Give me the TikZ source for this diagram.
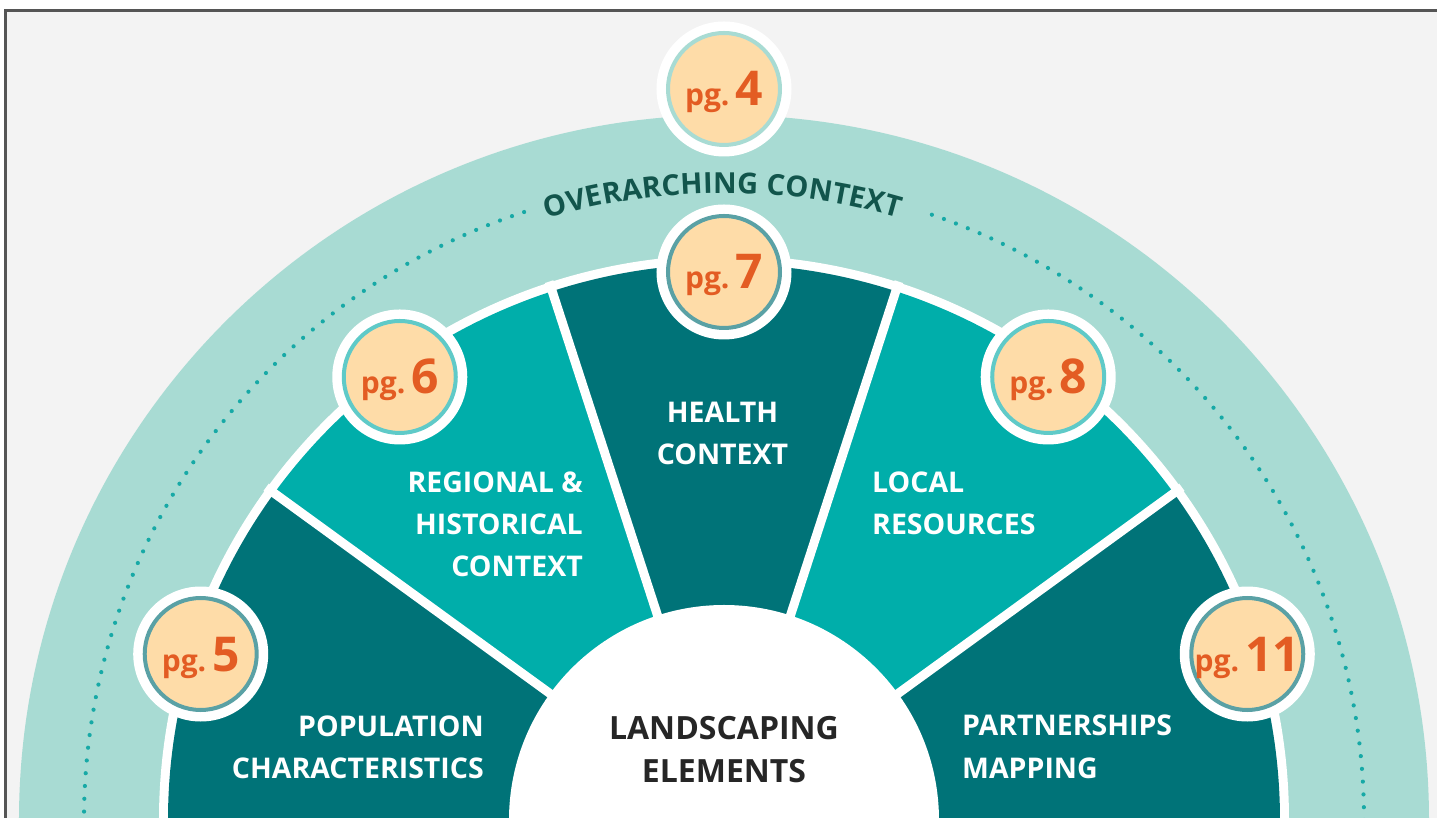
\documentclass[tikz,border=0pt]{standalone}
\usepackage{fontspec}
\setmainfont{Open Sans}
\usetikzlibrary{decorations.text}

\definecolor{pagebg}{HTML}{F3F3F3}
\definecolor{framecol}{HTML}{555555}
\definecolor{outerring}{HTML}{A8DBD3}
\definecolor{dotcol}{HTML}{17A9A6}
\definecolor{arctext}{HTML}{12554C}
\definecolor{dteal}{HTML}{007378}
\definecolor{lteal}{HTML}{00AEAA}
\definecolor{peach}{HTML}{FEDCA8}
\definecolor{pgorange}{HTML}{E35C23}
\definecolor{ringsoft}{HTML}{A8DBD3}
\definecolor{ringbright}{HTML}{5FCAC8}
\definecolor{ringdeep}{HTML}{5AA1A5}
\definecolor{coretext}{HTML}{262626}

\begin{document}
\begin{tikzpicture}[x=1pt,y=1pt,
  dots/.style={dotcol, line width=4.2pt, line cap=round, dash pattern=on 0pt off 12.8pt},
  sep/.style={white, line width=9pt},
  halo/.style={circle, fill=white, minimum size=135pt, inner sep=0pt},
  badge/.style={circle, fill=peach, line width=4pt, minimum size=112pt, inner sep=0pt},
  pgtext/.style={anchor=base, inner sep=0pt, text=pgorange, yshift=-17pt},
  seglabel/.style={inner sep=0pt, text=white, font=\fontsize{28.5}{30}\selectfont\bfseries},
  corelabel/.style={anchor=base, inner sep=0pt, text=coretext, font=\fontsize{32}{34}\selectfont\bfseries}
]
\useasboundingbox (-724,2) rectangle (713,820);
\clip (-724,2) rectangle (713,820);

% page and frame
\fill[white] (-724,2) rectangle (713,820);
\fill[pagebg] (-718.5,2) rectangle (713,809.5);
\draw[framecol, line width=3pt] (-718.5,0) -- (-718.5,809.5) -- (714,809.5);

% outer context ring
\fill[outerring] (0,0) circle (705);
\draw[dots] (0:640) arc (0:71.8:640);
\draw[dots] (108.2:640) arc (108.2:180:640);
\path[decorate, decoration={text along path, text align=fit to path,
  text={|\fontsize{29}{29}\selectfont\bfseries\color{arctext}|OVERARCHING CONTEXT}}]
  (106.4:627) arc (106.4:73.8:627);

% element sectors
\fill[white] (0,0) circle (565);
\foreach \a/\b/\c in {0/36/dteal,36/72/lteal,72/108/dteal,108/144/lteal,144/180/dteal}
  \fill[\c] (0,0) -- (\a:556) arc (\a:\b:556) -- cycle;
\foreach \a in {36,72,108,144}
  \draw[sep] (0,0) -- (\a:566);

% core
\node[circle, fill=white, minimum size=430pt, inner sep=0pt] (core) at (0,0) {};
\node[corelabel] (core1) at (0,80) {LANDSCAPING};
\node[corelabel] (core2) at (0,37) {ELEMENTS};

% sector labels
\node[seglabel, anchor=base east] (pop1) at (-240,83) {POPULATION};
\node[seglabel, anchor=base east] (pop2) at (-240,41) {CHARACTERISTICS};
\node[seglabel, anchor=base east] (reg1) at (-141,327) {REGIONAL \&};
\node[seglabel, anchor=base east] (reg2) at (-141,285) {HISTORICAL};
\node[seglabel, anchor=base east] (reg3) at (-141,243) {CONTEXT};
\node[seglabel, anchor=base] (hea1) at (-1.5,397) {HEALTH};
\node[seglabel, anchor=base] (hea2) at (-1.5,355) {CONTEXT};
\node[seglabel, anchor=base west] (loc1) at (148,327) {LOCAL};
\node[seglabel, anchor=base west] (loc2) at (148,285) {RESOURCES};
\node[seglabel, anchor=base west] (par1) at (238,84) {PARTNERSHIPS};
\node[seglabel, anchor=base west] (par2) at (238,41) {MAPPING};

% page badges
\coordinate (c4) at (0,731);
\coordinate (c5) at (162.4:549);
\coordinate (c6) at (126.2:549);
\coordinate (c7) at (90:548);
\coordinate (c8) at (53.8:549);
\coordinate (c11) at (17.6:549);

\foreach \p/\r in {4/ringsoft,5/ringdeep,6/ringbright,7/ringdeep,8/ringbright,11/ringdeep}{
  \node[halo] (h\p) at (c\p) {};
  \node[badge, draw=\r] (b\p) at (c\p) {};
  \node[pgtext] (t\p) at (c\p)
    {{\fontsize{30}{30}\selectfont\bfseries pg.}\kern6pt{\fontsize{48}{48}\selectfont\bfseries \p}};
}
\end{tikzpicture}
\end{document}
